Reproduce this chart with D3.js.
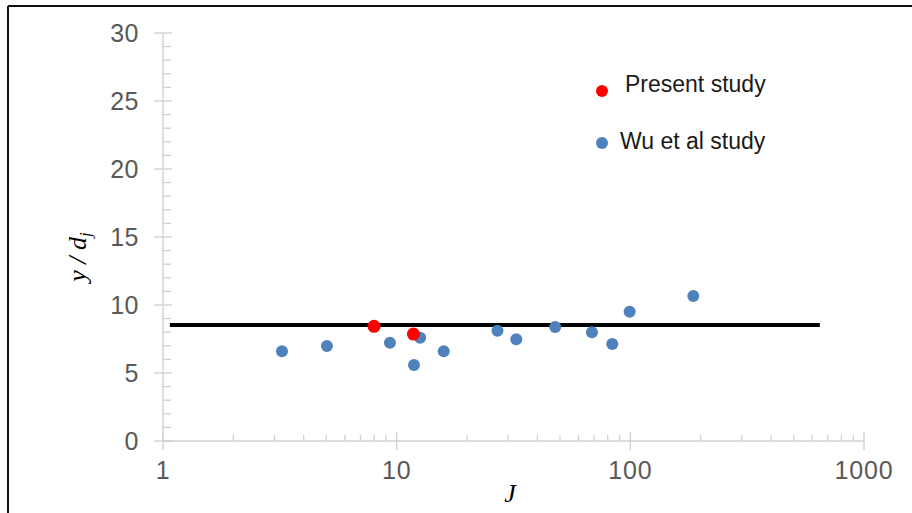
<!DOCTYPE html>
<html><head><meta charset="utf-8">
<script src="https://cdn.jsdelivr.net/npm/d3@7"></script>
<style>body{margin:0;background:#fff;} svg{display:block;}</style>
</head><body>
<svg id="c" width="912" height="513"></svg>
<script>
const presentJ = [8.0, 11.8];
const presentY = [8.43, 7.86];
const wuJ = [3.23, 5.03, 9.36, 11.86, 12.6, 15.9, 27.0, 32.5, 47.7, 68.5, 83.7, 99.3, 186];
const wuY = [6.6, 6.98, 7.23, 5.59, 7.6, 6.6, 8.11, 7.48, 8.38, 7.99, 7.13, 9.51, 10.66];
const lineJ = [1.07, 647];
const lineY = [8.53, 8.53];
const xTicks = [1, 10, 100, 1000];
const yTicks = [0, 5, 10, 15, 20, 25, 30];
const seriesNames = ["Present study", "Wu et al study"];
const colors = ["#ff0000", "#4f81bd"];

const svg = d3.select("#c");
// outer frame (left + top)
svg.append("line").attr("x1",8).attr("x2",8).attr("y1",6).attr("y2",513).attr("stroke","#111").attr("stroke-width",2);
svg.append("line").attr("x1",8).attr("x2",912).attr("y1",6).attr("y2",6).attr("stroke","#111").attr("stroke-width",2);

const x = d3.scaleLog().domain([1,1000]).range([163, 864]);
const y = d3.scaleLinear().domain([0,30]).range([441, 33]);
const axisCol = "#d0d0d0";
const txtCol = "#595959";
const tickFont = {family:"Liberation Sans, Arial, sans-serif", size:25};

// y axis
const ya = svg.append("g");
ya.append("line").attr("x1",163).attr("x2",163).attr("y1",y(0)).attr("y2",y(30)).attr("stroke",axisCol).attr("stroke-width",1.3);
const yMinor = d3.range(0,31,1).filter(v=>v%5!==0);
ya.selectAll(".ym").data(yMinor).join("line").attr("x1",163).attr("x2",171).attr("y1",d=>y(d)).attr("y2",d=>y(d)).attr("stroke",axisCol).attr("stroke-width",1.3);
ya.selectAll(".yM").data(yTicks).join("line").attr("x1",154).attr("x2",172).attr("y1",d=>y(d)).attr("y2",d=>y(d)).attr("stroke",axisCol).attr("stroke-width",1.3);
ya.selectAll("text").data(yTicks).join("text").attr("x",139).attr("y",d=>y(d)).attr("dy","0.36em")
  .attr("text-anchor","end").attr("font-family",tickFont.family).attr("font-size",tickFont.size).attr("letter-spacing",0.5).attr("fill",txtCol).text(d=>d);

// x axis
const xa = svg.append("g");
xa.append("line").attr("x1",x(1)).attr("x2",x(1000)).attr("y1",441).attr("y2",441).attr("stroke",axisCol).attr("stroke-width",1.3);
const xMinor = [];
[1,10,100].forEach(d=>{for(let k=2;k<=9;k++) xMinor.push(d*k);});
xa.selectAll(".xm").data(xMinor).join("line").attr("x1",d=>x(d)).attr("x2",d=>x(d)).attr("y1",435).attr("y2",441).attr("stroke",axisCol).attr("stroke-width",1.3);
xa.selectAll(".xM").data(xTicks).join("line").attr("x1",d=>x(d)).attr("x2",d=>x(d)).attr("y1",432).attr("y2",450).attr("stroke",axisCol).attr("stroke-width",1.3);
xa.selectAll("text").data(xTicks).join("text").attr("x",d=>x(d)).attr("y",479)
  .attr("text-anchor","middle").attr("font-family",tickFont.family).attr("font-size",tickFont.size).attr("letter-spacing",0.8).attr("fill",txtCol).text(d=>d);

// reference line
svg.append("line").attr("x1",x(lineJ[0])).attr("x2",x(lineJ[1])).attr("y1",y(lineY[0])).attr("y2",y(lineY[1])).attr("stroke","#000").attr("stroke-width",4);

// points
svg.append("g").selectAll("circle").data(wuJ.map((d,i)=>[d,wuY[i]])).join("circle")
  .attr("cx",d=>x(d[0])).attr("cy",d=>y(d[1])).attr("r",6).attr("fill",colors[1]);
svg.append("g").selectAll("circle").data(presentJ.map((d,i)=>[d,presentY[i]])).join("circle")
  .attr("cx",d=>x(d[0])).attr("cy",d=>y(d[1])).attr("r",6.5).attr("fill",colors[0]);

// legend
const leg = [{c:colors[0], t:seriesNames[0], cy:91, tx:625, ty:92},{c:colors[1], t:seriesNames[1], cy:143, tx:620, ty:149}];
leg.forEach(l=>{
  svg.append("circle").attr("cx",602).attr("cy",l.cy).attr("r",6).attr("fill",l.c);
  svg.append("text").attr("x",l.tx).attr("y",l.ty).attr("font-family","Liberation Sans, Arial, sans-serif").attr("font-size",23).attr("fill","#1a1a1a").text(l.t);
});

// axis titles
svg.append("text").attr("x",510).attr("y",502).attr("text-anchor","middle").attr("font-family","Liberation Serif, Times New Roman, serif")
  .attr("font-style","italic").attr("font-size",26).attr("fill","#000").text("J");
const yt = svg.append("text").attr("transform","translate(86,257) rotate(-90)").attr("text-anchor","middle")
  .attr("font-family","Liberation Serif, Times New Roman, serif").attr("font-style","italic").attr("font-size",26).attr("fill","#000");
yt.append("tspan").text("y / d");
yt.append("tspan").attr("font-size",17).attr("dy",5).text("j");
</script>
</body></html>
